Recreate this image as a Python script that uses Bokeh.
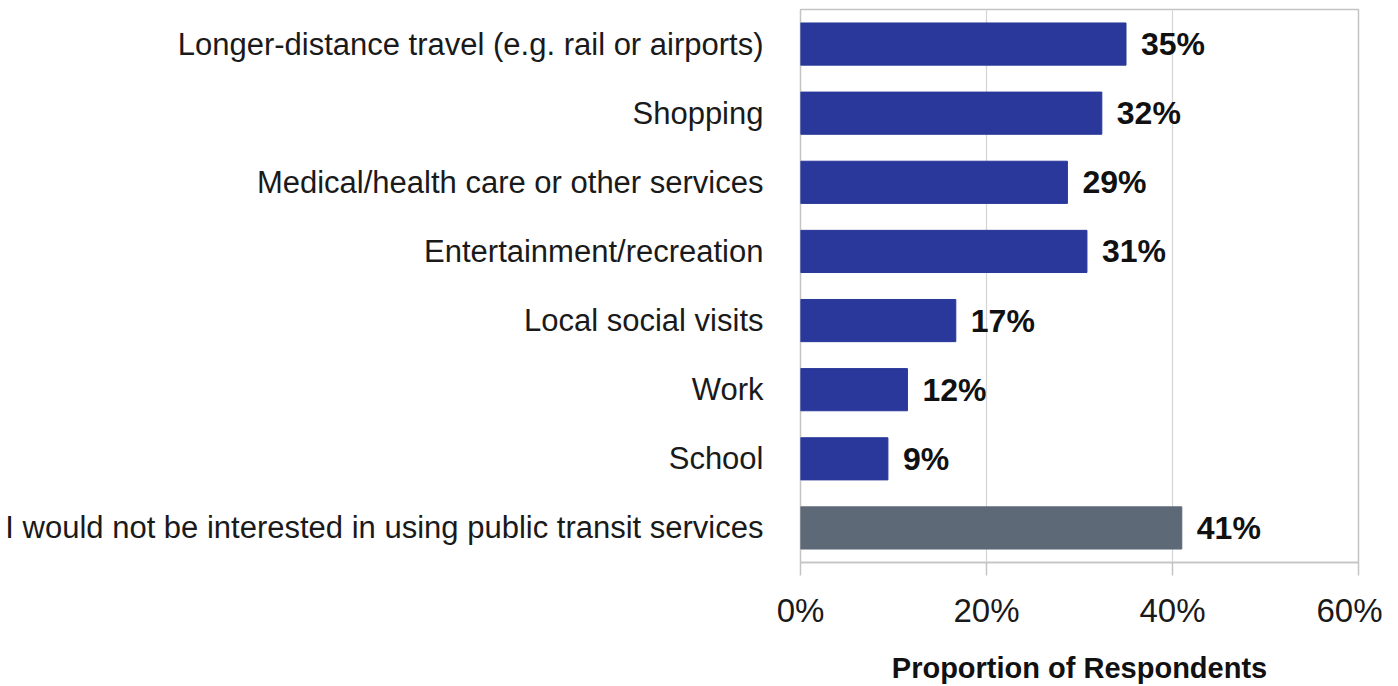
from bokeh.plotting import figure
from bokeh.models import ColumnDataSource, FactorRange, Range1d, FixedTicker, CustomJSTickFormatter
from bokeh.core.properties import value
from bokeh.embed import file_html
from bokeh.resources import INLINE

categories = [
    "Longer-distance travel (e.g. rail or airports)",
    "Shopping",
    "Medical/health care or other services",
    "Entertainment/recreation",
    "Local social visits",
    "Work",
    "School",
    "I would not be interested in using public transit services",
]
values = [35.0, 32.4, 28.7, 30.8, 16.7, 11.5, 9.4, 41.0]
labels = ["35%", "32%", "29%", "31%", "17%", "12%", "9%", "41%"]
colors = ["#29389A"] * 7 + ["#5E6977"]
x_ticks = [0, 20, 40, 60]

FONT = "Liberation Sans"

src = ColumnDataSource(dict(cat=categories, val=values, lab=labels, col=colors))

p = figure(
    width=1382, height=686,
    y_range=FactorRange(factors=categories[::-1]),
    x_range=Range1d(0, 60),
    output_backend="svg", toolbar_location=None,
    min_border_left=800, min_border_right=24, min_border_top=9, min_border_bottom=0,
)
p.hbar(y="cat", right="val", left=0, height=0.61, color="col", source=src)
p.text(x="val", y="cat", text="lab", source=src, x_offset=15,
       text_baseline="middle", text_align="left",
       text_font=value(FONT), text_font_style="bold", text_font_size="32px",
       text_color="#111111")

p.outline_line_color="#c4c4c4"
p.outline_line_width=1.5
p.ygrid.grid_line_color=None
p.xgrid.grid_line_color="#d4d4d4"
p.xgrid.grid_line_width=1.2
p.xaxis.ticker = FixedTicker(ticks=x_ticks)
p.xaxis.formatter = CustomJSTickFormatter(code="return tick + '%';")
p.xaxis.minor_tick_line_color=None
p.xaxis.major_tick_out=13
p.xaxis.major_tick_in=0
p.xaxis.major_tick_line_color="#c4c4c4"
p.xaxis.major_tick_line_width=1.5
p.xaxis.axis_line_color="#c4c4c4"
p.xaxis.axis_line_width=1.5
p.xaxis.major_label_text_font=FONT
p.xaxis.major_label_text_font_size="33px"
p.xaxis.major_label_text_color="#1a1a1a"
p.xaxis.major_label_standoff=16
p.xaxis.axis_label="Proportion of Respondents"
p.xaxis.axis_label_text_font=FONT
p.xaxis.axis_label_text_font_style="bold"
p.xaxis.axis_label_text_font_size="29px"
p.xaxis.axis_label_text_color="#111111"
p.xaxis.axis_label_standoff=20

p.yaxis.axis_line_color=None
p.yaxis.major_tick_line_color=None
p.yaxis.minor_tick_line_color=None
p.yaxis.major_label_text_font=FONT
p.yaxis.major_label_text_font_size="31px"
p.yaxis.major_label_text_color="#1a1a1a"
p.yaxis.major_label_standoff=31

open("out.html", "w").write(file_html(p, INLINE))
